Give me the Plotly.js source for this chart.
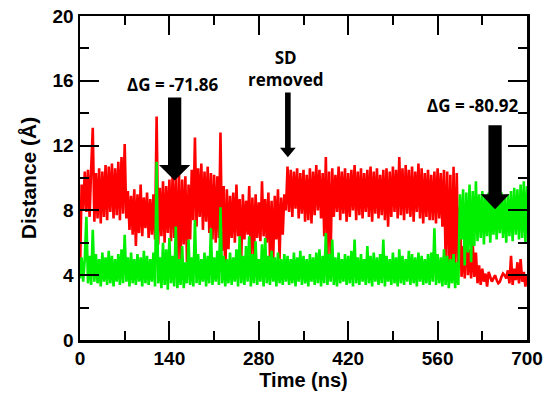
<!DOCTYPE html>
<html>
<head>
<meta charset="utf-8">
<script src="https://cdn.plot.ly/plotly-3.0.1.min.js"></script>
<style>html,body{margin:0;padding:0;background:#fff;}#chart{width:551px;height:395px;}</style>
</head>
<body>
<div id="chart"></div>
<script>
// sampling of the trajectory (ns)
const timeStep = 2.5;
// distance series (Å), one value per timeStep
const redDistance = [
4.0,9.6,8.0,10.4,7.9,10.5,7.6,10.6,13.1,7.3,
10.3,7.5,10.6,7.2,10.4,7.6,10.8,7.4,10.7,7.9,
10.9,7.5,10.6,7.7,11.0,7.4,11.3,7.8,12.1,7.5,
9.2,6.8,8.9,6.5,9.3,5.8,9.0,6.6,9.6,6.4,
8.8,6.9,9.1,6.3,8.7,6.5,9.0,6.2,13.8,5.9,
9.4,6.4,9.8,6.0,9.5,6.6,9.9,6.1,10.2,6.3,
10.0,4.6,10.3,4.9,9.9,5.9,10.1,4.8,9.6,6.2,
10.5,7.4,12.5,7.0,10.6,7.6,10.9,6.8,10.4,7.3,
10.7,6.6,10.3,6.2,10.2,6.0,10.1,6.3,12.8,5.5,
9.5,3.9,9.3,5.6,8.9,6.3,9.1,6.0,9.6,6.4,
8.7,5.0,9.0,6.2,8.6,6.5,9.5,4.9,8.8,5.2,
9.0,6.3,8.5,6.1,9.8,6.4,8.7,6.0,9.1,5.1,
8.6,4.9,8.9,6.2,9.3,5.0,8.8,6.5,9.0,8.0,
10.7,7.9,10.5,7.6,10.4,8.1,10.6,7.5,10.3,7.8,
10.5,7.3,10.2,7.4,10.6,7.2,10.4,7.7,10.8,8.0,
10.5,7.5,10.3,6.4,11.3,5.3,10.4,5.2,10.6,7.6,
10.2,7.9,10.7,7.4,10.4,7.8,10.6,7.3,10.3,7.6,
10.5,8.0,10.8,7.4,10.4,7.7,10.6,7.5,10.3,7.9,
10.5,7.6,10.7,7.3,10.4,7.8,10.6,7.5,10.2,7.7,
10.5,7.4,10.6,7.0,10.4,7.6,10.7,7.9,10.5,7.5,
11.3,7.7,10.6,7.4,10.8,7.8,10.5,7.6,10.7,7.3,
10.4,7.9,10.9,7.5,10.6,7.2,10.3,7.6,10.5,7.4,
10.2,7.4,10.4,7.2,10.6,7.5,10.3,7.0,10.5,5.1,
10.4,4.6,10.2,4.0,10.7,4.3,10.3,4.5,8.2,3.9,
5.8,3.8,7.4,4.0,5.6,3.8,6.0,3.9,5.4,3.5,
4.6,3.4,4.4,3.6,4.1,3.3,4.2,3.9,3.6,3.8,
4.0,3.7,3.5,3.6,3.9,4.1,4.0,3.8,4.3,3.5,
5.2,3.4,4.4,3.7,4.8,3.5,5.0,3.6,4.2,3.3,
4.0
];
const greenDistance = [
3.8,5.1,3.6,5.0,7.6,3.5,5.2,3.4,6.8,3.6,
5.3,3.5,5.0,3.3,5.4,3.6,5.1,3.4,5.5,3.5,
5.2,3.3,5.0,3.6,5.3,3.4,5.6,3.5,6.5,3.6,
5.1,3.3,5.4,3.5,5.0,3.4,5.3,3.6,5.1,3.3,
5.5,3.5,5.2,3.4,5.0,3.6,5.4,3.3,11.0,3.5,
5.1,3.2,6.0,3.4,5.6,3.1,6.3,3.5,5.2,3.3,
7.0,3.2,5.0,3.4,5.8,3.2,4.8,3.5,6.2,3.4,
5.1,3.3,7.4,3.5,5.3,3.4,5.0,3.6,5.4,3.3,
5.2,3.5,6.9,3.4,5.1,3.6,5.5,3.4,8.2,3.5,
5.2,3.3,5.0,3.5,5.4,3.4,5.1,3.6,5.6,3.3,
6.4,3.5,5.2,3.4,5.8,3.6,6.4,3.3,5.3,3.5,
6.1,3.4,5.0,3.6,5.9,3.3,6.3,3.5,5.2,3.4,
5.5,3.6,5.1,3.3,5.4,3.5,5.0,3.4,5.3,3.6,
5.2,3.4,5.0,3.5,5.4,3.3,5.1,3.6,5.5,3.4,
5.2,3.5,5.0,3.3,5.3,3.6,5.1,3.4,5.4,3.5,
5.6,3.3,5.2,3.5,6.6,3.4,5.3,3.6,6.2,3.4,
5.1,3.3,5.4,3.5,5.0,3.6,5.3,3.4,5.2,3.5,
5.5,3.3,6.2,3.5,5.1,3.4,5.3,3.6,5.0,3.4,
5.8,3.5,5.2,3.3,5.4,3.6,5.1,3.4,5.3,3.5,
6.2,3.3,5.2,3.6,5.0,3.4,5.4,3.5,5.1,3.3,
5.6,3.5,5.2,3.4,5.0,3.6,5.5,3.4,5.3,3.5,
5.1,3.3,5.4,3.6,5.2,3.4,5.0,3.5,5.3,3.4,
5.4,3.6,6.9,3.4,5.3,3.5,5.1,3.3,5.6,3.4,
5.2,3.2,5.0,3.5,5.3,3.2,4.8,3.4,9.0,6.2,
9.3,4.6,9.1,5.4,9.6,4.8,9.2,5.8,9.8,6.1,
9.0,6.3,9.2,5.9,8.9,6.4,9.1,6.0,8.8,6.5,
9.0,6.2,8.9,6.6,9.1,6.3,8.8,6.0,9.0,6.4,
9.2,6.1,9.4,6.5,9.3,6.2,9.6,6.3,9.8,6.0,
9.5
];
const xTickVals = [0,140,280,420,560,700];
const yTickVals = [0,4,8,12,16,20];
const xTitle = 'Time (ns)';
const yTitle = 'Distance (Å)';
const noteLabels = ['ΔG = -71.86', 'SD<br>removed', 'ΔG = -80.92'];
const noteTimes = [146, 322, 615];
const noteDistances = [15.75, 16.75, 14.5];
// arrows: [centre time, shaft half-width, head half-width, top, head base, tip]
const arrowSpecs = [
  [148.2, 10.4, 24.5, 14.97, 10.8, 9.85],
  [325.5, 4.4, 12.3, 15.28, 11.86, 11.28],
  [650.0, 10.4, 22.5, 13.25, 9.0, 8.07]
];

const time = redDistance.map((_, i) => i * timeStep);

const traces = [
  {x: time, y: redDistance, type: 'scatter', mode: 'lines',
   line: {color: '#ff0000', width: 2.6, simplify: false}, hoverinfo: 'skip'},
  {x: time, y: greenDistance, type: 'scatter', mode: 'lines',
   line: {color: '#00f000', width: 2.6, simplify: false}, hoverinfo: 'skip'}
];

const shapes = arrowSpecs.map(a => {
  const [c, sw, hw, top, base, tip] = a;
  return {
    type: 'path', xref: 'x', yref: 'y', layer: 'above',
    path: `M ${c-sw},${top} L ${c+sw},${top} L ${c+sw},${base} L ${c+hw},${base} L ${c},${tip} L ${c-hw},${base} L ${c-sw},${base} Z`,
    fillcolor: 'black', line: {width: 0}
  };
});

const annotations = noteLabels.map((t, i) => ({
  x: noteTimes[i], y: noteDistances[i], xref: 'x', yref: 'y',
  text: t, showarrow: false, xanchor: 'center', yanchor: 'middle',
  font: {family: '"Open Sans", Lato, sans-serif', size: 17, weight: 'bold', color: 'black'}
}));

const axisCommon = {
  ticks: 'inside', ticklen: 19, tickwidth: 2, tickcolor: 'black',
  showline: true, linewidth: 2.5, linecolor: 'black', mirror: 'ticks',
  showgrid: false, zeroline: false, fixedrange: true,
  tickfont: {family: '"Liberation Sans", Arial, sans-serif', size: 19, weight: 'bold', color: 'black'}
};

const layout = {
  width: 551, height: 395,
  margin: {l: 80, r: 24, t: 16, b: 55},
  paper_bgcolor: 'white', plot_bgcolor: 'white',
  showlegend: false,
  font: {family: '"Liberation Sans", Arial, sans-serif', color: 'black'},
  xaxis: Object.assign({}, axisCommon, {
    range: [0, 700], tickmode: 'array', tickvals: xTickVals,
    minor: {dtick: 70, tick0: 0, ticks: 'inside', ticklen: 9, tickwidth: 2, tickcolor: 'black', showgrid: false},
    title: {text: xTitle, standoff: 2, font: {family: '"Liberation Sans", Arial, sans-serif', size: 20, weight: 'bold', color: 'black'}}
  }),
  yaxis: Object.assign({}, axisCommon, {
    range: [0, 20], tickmode: 'array', tickvals: yTickVals,
    minor: {dtick: 2, tick0: 0, ticks: 'inside', ticklen: 9, tickwidth: 2, tickcolor: 'black', showgrid: false},
    title: {text: yTitle, standoff: 10, font: {family: '"Liberation Sans", Arial, sans-serif', size: 21, weight: 'bold', color: 'black'}}
  }),
  shapes: shapes,
  annotations: annotations
};

Plotly.newPlot('chart', traces, layout, {staticPlot: true, displayModeBar: false});
</script>
</body>
</html>
